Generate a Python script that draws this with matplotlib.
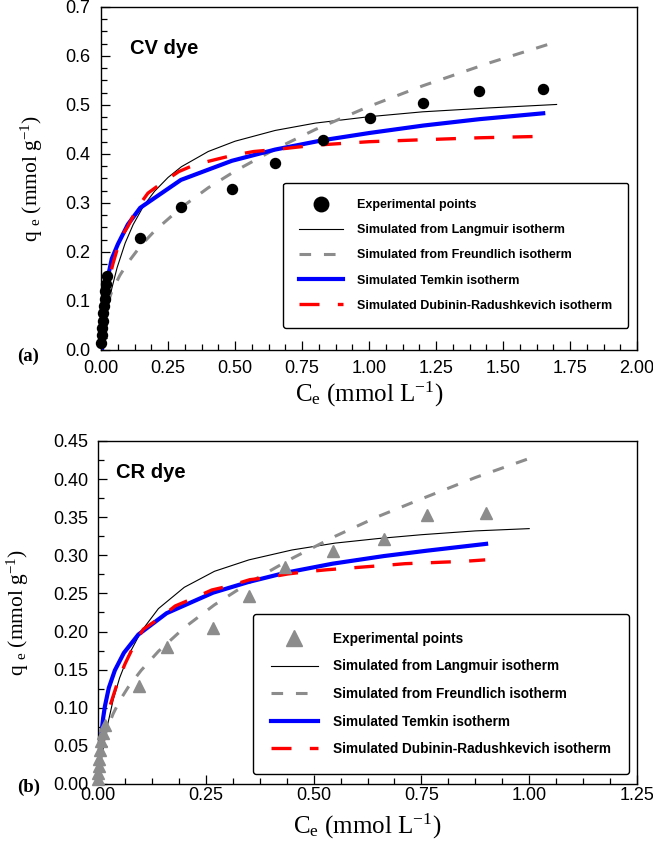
import matplotlib
matplotlib.use('Agg')
import matplotlib.pyplot as plt
from matplotlib.ticker import MultipleLocator, FormatStrFormatter

plt.rcParams['font.family'] = ['Liberation Sans', 'DejaVu Sans']
plt.rcParams['mathtext.fontset'] = 'custom'
plt.rcParams['mathtext.rm'] = 'Liberation Serif'
plt.rcParams['mathtext.it'] = 'Liberation Serif:italic'

# ---- (a) CV dye ----
cv_ce = [0.000, 0.002, 0.004, 0.006, 0.008, 0.010, 0.013, 0.016, 0.019, 0.022,
         0.146, 0.298, 0.488, 0.650, 0.827, 1.004, 1.203, 1.412, 1.650]
cv_qe = [0.015, 0.030, 0.045, 0.060, 0.075, 0.090, 0.105, 0.120, 0.135, 0.150,
         0.229, 0.291, 0.328, 0.382, 0.429, 0.473, 0.505, 0.529, 0.532]

cv_lang_ce = [0, 0.01, 0.02, 0.04, 0.06, 0.09, 0.12, 0.16, 0.2, 0.25, 0.3, 0.4,
              0.5, 0.65, 0.8, 1.0, 1.2, 1.45, 1.7]
cv_lang_qe = [0, 0.038, 0.070, 0.125, 0.168, 0.218, 0.256, 0.295, 0.324, 0.352,
              0.374, 0.405, 0.426, 0.448, 0.463, 0.476, 0.486, 0.494, 0.501]

cv_freu_ce = [0.005, 0.01, 0.02, 0.04, 0.07, 0.1, 0.15, 0.2, 0.3, 0.4, 0.5,
              0.65, 0.8, 1.0, 1.2, 1.45, 1.7]
cv_freu_qe = [0.047, 0.064, 0.087, 0.119, 0.152, 0.178, 0.214, 0.243, 0.291,
              0.331, 0.365, 0.410, 0.450, 0.497, 0.539, 0.586, 0.629]

cv_temk_ce = [0.004, 0.006, 0.008, 0.010, 0.013, 0.016, 0.019, 0.022, 0.04,
              0.063, 0.10, 0.146, 0.298, 0.488, 0.650, 0.827, 1.004, 1.203,
              1.412, 1.650]
cv_temk_qe = [0.004, 0.036, 0.059, 0.077, 0.097, 0.114, 0.128, 0.139, 0.186,
              0.216, 0.256, 0.290, 0.347, 0.386, 0.409, 0.428, 0.443, 0.458,
              0.471, 0.483]

cv_dr_ce = [0.001, 0.005, 0.010, 0.018, 0.026, 0.045, 0.06, 0.076, 0.10, 0.13,
            0.146, 0.175, 0.22, 0.29, 0.35, 0.43, 0.49, 0.57, 0.65, 0.75, 0.83,
            1.0, 1.2, 1.41, 1.65]
cv_dr_qe = [0.010, 0.045, 0.085, 0.115, 0.136, 0.177, 0.205, 0.231, 0.252,
            0.284, 0.298, 0.320, 0.338, 0.364, 0.378, 0.389, 0.397, 0.405,
            0.409, 0.415, 0.419, 0.425, 0.429, 0.433, 0.436]

# ---- (b) CR dye ----
cr_ce = [0.000, 0.001, 0.002, 0.003, 0.005, 0.008, 0.012, 0.016, 0.094, 0.159,
         0.267, 0.349, 0.434, 0.544, 0.663, 0.762, 0.900]
cr_qe = [0.007, 0.015, 0.023, 0.033, 0.045, 0.056, 0.067, 0.078, 0.128, 0.180,
         0.204, 0.246, 0.285, 0.306, 0.322, 0.353, 0.356]

cr_lang_ce = [0, 0.005, 0.01, 0.02, 0.035, 0.05, 0.07, 0.1, 0.14, 0.2, 0.27,
              0.35, 0.45, 0.55, 0.65, 0.75, 0.875, 1.0]
cr_lang_qe = [0, 0.021, 0.040, 0.072, 0.110, 0.139, 0.168, 0.200, 0.230, 0.258,
              0.279, 0.294, 0.307, 0.316, 0.322, 0.327, 0.332, 0.335]

cr_freu_ce = [0.002, 0.005, 0.01, 0.02, 0.035, 0.05, 0.07, 0.1, 0.14, 0.2,
              0.27, 0.35, 0.45, 0.55, 0.65, 0.75, 0.875, 1.0]
cr_freu_qe = [0.025, 0.038, 0.052, 0.071, 0.092, 0.109, 0.127, 0.149, 0.174,
              0.205, 0.235, 0.264, 0.296, 0.325, 0.351, 0.374, 0.402, 0.427]

cr_temk_ce = [0.0025, 0.004, 0.006, 0.009, 0.012, 0.016, 0.025, 0.039, 0.06,
              0.0935, 0.159, 0.267, 0.349, 0.434, 0.544, 0.663, 0.762, 0.9]
cr_temk_qe = [0.004, 0.029, 0.051, 0.072, 0.087, 0.102, 0.126, 0.149, 0.172,
              0.196, 0.224, 0.251, 0.265, 0.277, 0.289, 0.299, 0.306, 0.315]

cr_dr_ce = [0.001, 0.004, 0.008, 0.012, 0.02, 0.032, 0.047, 0.063, 0.086, 0.105,
            0.144, 0.179, 0.221, 0.264, 0.306, 0.352, 0.395, 0.44, 0.484, 0.53,
            0.577, 0.623, 0.67, 0.712, 0.758, 0.8, 0.847, 0.898]
cr_dr_qe = [0.005, 0.018, 0.040, 0.062, 0.088, 0.110, 0.136, 0.158, 0.185,
            0.203, 0.218, 0.2335, 0.2436, 0.2545, 0.260, 0.268, 0.271, 0.2755,
            0.2785, 0.281, 0.283, 0.285, 0.287, 0.289, 0.290, 0.291, 0.292, 0.294]

labels = ["Experimental points", "Simulated from Langmuir isotherm",
          "Simulated from Freundlich isotherm", "Simulated Temkin isotherm",
          "Simulated Dubinin-Radushkevich isotherm"]

GRAY = "#8c8c8c"
xlab = r'$\mathregular{C_e}$ (mmol L$^{\mathregular{-1}}$)'
ylab = r'q $_{\mathregular{e}}$ (mmol g$^{\mathregular{-1}}$)'

fig = plt.figure(figsize=(6.53, 8.48), dpi=100)
ax1 = fig.add_axes([0.1547, 0.5873, 0.8208, 0.4045])
ax2 = fig.add_axes([0.1501, 0.0755, 0.8254, 0.4045])


def draw(ax, ce, qe, mk, mcol, ms, lang, freu, temk, dr):
    ax.plot(ce, qe, linestyle='none', marker=mk, color=mcol, ms=ms,
            clip_on=False, zorder=5)
    ax.plot(lang[0], lang[1], color='black', lw=0.8)
    ax.plot(freu[0], freu[1], color=GRAY, lw=2.2, dashes=(3.8, 4.2))
    ax.plot(temk[0], temk[1], color='#0000ff', lw=3.0)
    ax.plot(dr[0], dr[1], color='#ff0000', lw=2.4, dashes=(6, 5.5))


draw(ax1, cv_ce, cv_qe, 'o', 'black', 7.2,
     (cv_lang_ce, cv_lang_qe), (cv_freu_ce, cv_freu_qe),
     (cv_temk_ce, cv_temk_qe), (cv_dr_ce, cv_dr_qe))
draw(ax2, cr_ce, cr_qe, '^', GRAY, 8.5,
     (cr_lang_ce, cr_lang_qe), (cr_freu_ce, cr_freu_qe),
     (cr_temk_ce, cr_temk_qe), (cr_dr_ce, cr_dr_qe))

ax1.set_xlim(0, 2.0)
ax1.set_ylim(0, 0.7)
ax1.xaxis.set_major_locator(MultipleLocator(0.25))
ax1.xaxis.set_minor_locator(MultipleLocator(0.0625))
ax1.yaxis.set_major_locator(MultipleLocator(0.1))
ax1.yaxis.set_minor_locator(MultipleLocator(0.025))
ax1.xaxis.set_major_formatter(FormatStrFormatter('%.2f'))
ax1.yaxis.set_major_formatter(FormatStrFormatter('%.1f'))

ax2.set_xlim(0, 1.25)
ax2.set_ylim(0, 0.45)
ax2.xaxis.set_major_locator(MultipleLocator(0.25))
ax2.xaxis.set_minor_locator(MultipleLocator(0.0625))
ax2.yaxis.set_major_locator(MultipleLocator(0.05))
ax2.yaxis.set_minor_locator(MultipleLocator(0.025))
ax2.xaxis.set_major_formatter(FormatStrFormatter('%.2f'))
ax2.yaxis.set_major_formatter(FormatStrFormatter('%.2f'))

for ax, xpad, ypad in ((ax1, 7.5, 8.0), (ax2, 2.5, 7.2)):
    ax.tick_params(which='both', direction='in', top=False, right=False,
                   labelsize=13, width=0.9)
    ax.tick_params(which='major', length=6.5)
    ax.tick_params(which='minor', length=4)
    ax.tick_params(axis='x', which='major', pad=xpad)
    ax.tick_params(axis='y', which='major', pad=ypad)
    for s in ax.spines.values():
        s.set_linewidth(1.0)
    ax.set_xlabel(xlab, fontsize=18, family='Liberation Serif')
    ax.set_ylabel(ylab, fontsize=15.5, family='Liberation Serif')

ax1.xaxis.set_label_coords(0.5, -0.087)
ax2.xaxis.set_label_coords(0.5, -0.082)
ax1.yaxis.set_label_coords(-0.105, 0.5)
ax2.yaxis.set_label_coords(-0.125, 0.5)

ax1.text(0.054, 0.878, "CV dye", transform=ax1.transAxes, fontsize=14.5,
         fontweight='bold', va='center')
ax2.text(0.033, 0.909, "CR dye", transform=ax2.transAxes, fontsize=14.5,
         fontweight='bold', va='center')
fig.text(0.026, 0.580, "(a)", fontsize=13.5, fontweight='bold',
         family='Liberation Serif', va='center')
fig.text(0.026, 0.071, "(b)", fontsize=13.5, fontweight='bold',
         family='Liberation Serif', va='center')

leg1 = ax1.legend(ax1.lines, labels, loc='upper left',
                  bbox_to_anchor=(0.3396, 0.487), borderaxespad=0,
                  prop={'weight': 'bold', 'size': 9}, handlelength=3.5,
                  handletextpad=1.1, borderpad=1.3, labelspacing=1.05,
                  markerscale=1.45, fancybox=True, framealpha=1,
                  edgecolor='black')
leg2 = ax2.legend(ax2.lines, labels, loc='upper left',
                  bbox_to_anchor=(0.2876, 0.4956), borderaxespad=0,
                  prop={'weight': 'bold', 'size': 9.8}, handlelength=3.45,
                  handletextpad=1.15, borderpad=1.3, labelspacing=1.0,
                  markerscale=1.4, fancybox=True, framealpha=1,
                  edgecolor='black')
for leg in (leg1, leg2):
    leg.get_frame().set_linewidth(1.0)

fig.savefig("out.png", dpi=100)
